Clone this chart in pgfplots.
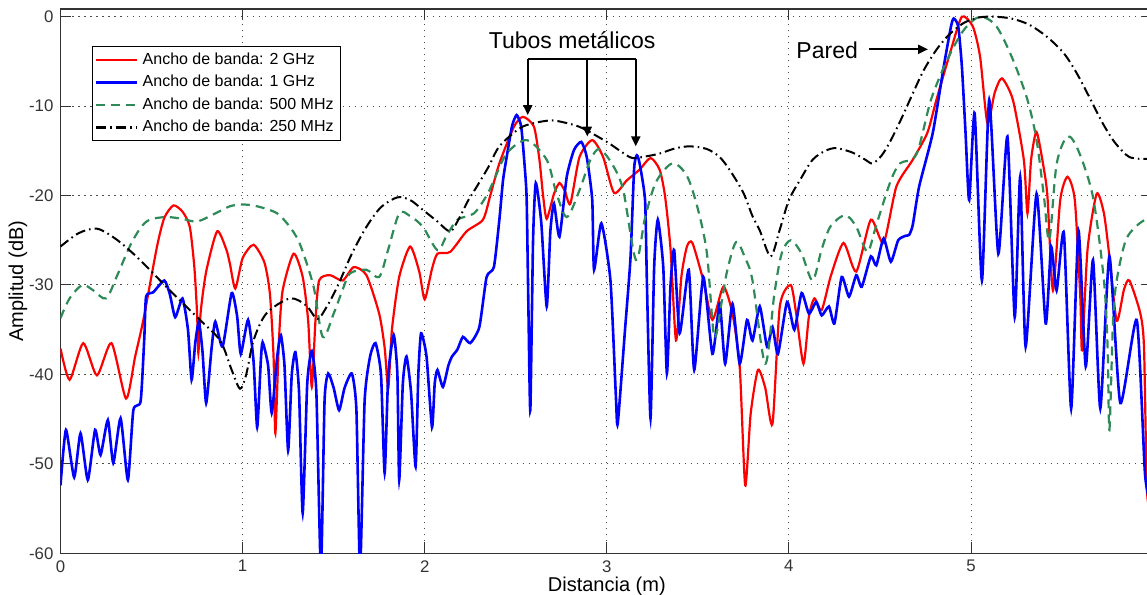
\documentclass[border=0pt]{standalone}
\usepackage{fontspec}
\setmainfont{Liberation Sans}
\usepackage{pgfplots}
\pgfplotsset{compat=1.18}
\usetikzlibrary{arrows.meta}
\definecolor{mgreen}{RGB}{46,139,87}

\begin{document}
\begin{tikzpicture}
\begin{axis}[
    name=main,
    scale only axis,
    width=546.3pt, height=272.15pt,
    xmin=0, xmax=6, ymin=-60, ymax=0.86,
    xtick={0,1,2,3,4,5}, xticklabels={0,1,2,3,4,5},
    ytick={-60,-50,-40,-30,-20,-10,0},
    yticklabels={-60,-50,-40,-30,-20,-10,0},
    tick align=inside, tick pos=both,
    major tick length=5.5pt,
    tick style={black!80, line width=0.5pt},
    axis line style={black!80, line width=0.6pt},
    grid=major,
    major grid style={dash pattern=on 0.6pt off 2.4pt, black!70, line width=0.5pt},
    tick label style={font=\fontsize{8.4}{10}\selectfont, text=black!80},
    label style={font=\fontsize{8.2}{10}\selectfont, text=black!80},
    xlabel={Distancia (m)},
    ylabel={Amplitud (dB)},
    every axis x label/.style={at={(axis description cs:0.5,-0.0606)}, anchor=center},
    every axis y label/.style={at={(axis description cs:-0.0389,0.5)}, rotate=90, anchor=center},
    legend style={at={(axis cs:0.1713,-3.28)}, anchor=north west, draw=black,
        fill=white, font=\fontsize{8}{9}\selectfont, inner xsep=1.5pt, inner ysep=1pt,
        cells={anchor=west}},
    legend image code/.code={\draw[#1] (0pt,0pt) -- (20.5pt,0pt);},
]

% Ancho de banda 2 GHz
\addplot[red, line width=1.1pt, smooth, tension=0.4] coordinates {
(0,-37.1) (0.05,-40.6) (0.125,-36.5) (0.2,-40.1) (0.28,-36.5) (0.36,-42.7) (0.41,-38)
(0.455,-33.9) (0.53,-25.7) (0.57,-22.5) (0.62,-21.1) (0.67,-21.8) (0.71,-23.5) (0.735,-28)
(0.75,-33.2) (0.757,-37.6) (0.77,-33) (0.80,-28.5) (0.86,-24.0) (0.91,-26.0) (0.93,-27.6)
(0.96,-30.4) (1.00,-27.0) (1.06,-25.5) (1.12,-27.5) (1.15,-31.0) (1.17,-38) (1.18,-46.6)
(1.20,-36) (1.22,-30.6) (1.28,-26.5) (1.33,-29.1) (1.36,-34) (1.38,-41.4) (1.40,-34)
(1.42,-29.5) (1.48,-28.9) (1.55,-29.5) (1.61,-28.0) (1.68,-28.9) (1.75,-33.2) (1.78,-37)
(1.80,-41.5) (1.82,-35) (1.86,-29.1) (1.92,-25.7) (1.97,-28.5) (2.00,-31.6) (2.04,-28.2)
(2.07,-26.5) (2.14,-26.3) (2.23,-24.0) (2.32,-22.7) (2.36,-20.0) (2.41,-16.4) (2.49,-12.3)
(2.54,-11.2) (2.60,-12.3) (2.63,-16.0) (2.65,-20.0) (2.67,-22.6) (2.71,-19.8) (2.74,-18.6)
(2.77,-19.5) (2.80,-20.9) (2.85,-15.7) (2.92,-13.8) (2.98,-15.7) (3.04,-19.7) (3.11,-18.3)
(3.18,-17.1) (3.24,-15.8) (3.29,-17.1) (3.32,-20.1) (3.35,-26) (3.38,-36.2) (3.41,-29)
(3.44,-25.7) (3.47,-25.3) (3.53,-29.5) (3.58,-33.9) (3.64,-30.2) (3.69,-33.2) (3.73,-39.2)
(3.76,-52.4) (3.79,-44.4) (3.83,-39.5) (3.87,-41.5) (3.91,-45.5) (3.95,-32.4) (4.01,-30.0)
(4.04,-33.2) (4.08,-38.8) (4.11,-33.5) (4.14,-31.5) (4.18,-32.8) (4.23,-29) (4.30,-25.3)
(4.37,-28.5) (4.45,-22.7) (4.52,-25.3) (4.59,-19.0) (4.68,-16.0) (4.76,-13.0) (4.81,-9.3)
(4.89,-3.7) (4.95,0) (5.01,-1.1) (5.05,-4.5) (5.09,-11.9) (5.13,-8.5) (5.17,-6.9)
(5.23,-9.3) (5.29,-16.0) (5.31,-22) (5.33,-16) (5.36,-12.9) (5.40,-17) (5.42,-20.2)
(5.45,-30.6) (5.49,-20.5) (5.53,-17.9) (5.57,-20.5) (5.60,-31.3) (5.61,-37.3) (5.64,-26)
(5.69,-19.8) (5.73,-22) (5.76,-26.8) (5.80,-34.0) (5.84,-30.5) (5.87,-29.5) (5.93,-33.2)
(5.95,-37) (5.965,-52.5) (5.98,-55)
};
\addlegendentry{Ancho de banda: 2 GHz}

% Ancho de banda 1 GHz
\addplot[blue, line width=1.3pt, smooth, tension=0.35] coordinates {
(0,-52.4) (0.03,-46.2) (0.075,-51.5) (0.11,-46.6) (0.15,-51.8) (0.19,-46.2) (0.22,-49.0)
(0.26,-45.1) (0.29,-49.9) (0.33,-44.9) (0.37,-51.8) (0.40,-44.0) (0.44,-43.0) (0.46,-36)
(0.47,-31.3) (0.51,-30.8) (0.57,-29.5) (0.60,-31) (0.63,-33.6) (0.67,-31.5) (0.70,-35)
(0.72,-40.6) (0.74,-36.5) (0.76,-34.1) (0.78,-37.5) (0.80,-43.2) (0.83,-37) (0.85,-34.1)
(0.89,-36.9) (0.94,-30.9) (0.97,-33.5) (0.99,-37.7) (1.03,-33.9) (1.06,-38.5) (1.08,-45.9)
(1.10,-38.5) (1.11,-36.4) (1.14,-39) (1.16,-44.3) (1.19,-38) (1.21,-35.6) (1.23,-39)
(1.25,-48.5) (1.27,-40) (1.29,-37.5) (1.31,-42) (1.33,-55.5) (1.355,-41) (1.38,-37.4)
(1.405,-42) (1.43,-62) (1.45,-43) (1.47,-39.9) (1.50,-41.5) (1.53,-44.0) (1.56,-41.5)
(1.60,-39.9) (1.625,-44) (1.645,-62) (1.67,-43) (1.70,-38) (1.73,-36.5) (1.76,-40)
(1.78,-51.0) (1.80,-40) (1.83,-35.6) (1.85,-40) (1.86,-51.8) (1.88,-41) (1.90,-38.0)
(1.925,-42) (1.95,-50.3) (1.965,-40) (1.98,-35.4) (2.01,-38) (2.04,-45.9) (2.055,-41)
(2.07,-39.5) (2.10,-41.4) (2.13,-39) (2.15,-38.0) (2.18,-37.2) (2.21,-35.8) (2.25,-36.5)
(2.30,-34.7) (2.34,-29.1) (2.38,-28.0) (2.41,-22.7) (2.43,-18.3) (2.45,-15.7) (2.48,-12.2)
(2.505,-11.0) (2.53,-12.3) (2.55,-17) (2.56,-20.5) (2.57,-33.2) (2.58,-44.0) (2.595,-25)
(2.61,-18.6) (2.64,-23) (2.67,-32.4) (2.69,-24) (2.71,-20.9) (2.74,-24.6) (2.78,-17.9)
(2.82,-14.9) (2.86,-14.0) (2.89,-15.7) (2.92,-20.5) (2.93,-28.3) (2.97,-23.1) (3.02,-29.5)
(3.05,-42.5) (3.06,-45.5) (3.10,-35) (3.13,-27) (3.15,-17) (3.165,-15.5) (3.18,-16.4)
(3.21,-20.5) (3.22,-29.5) (3.24,-44.9) (3.26,-28) (3.28,-22.7) (3.31,-28) (3.33,-39.9)
(3.35,-30) (3.37,-26.1) (3.40,-35.4) (3.45,-28.3) (3.48,-39.5) (3.53,-29.1) (3.58,-37.7)
(3.62,-32.1) (3.65,-38.8) (3.69,-32.1) (3.73,-38.8) (3.77,-33.9) (3.80,-36.2) (3.84,-32.4)
(3.88,-36.9) (3.91,-34.7) (3.94,-37.7) (3.99,-31.9) (4.03,-35.0) (4.07,-30.9) (4.11,-33.2)
(4.15,-31.9) (4.18,-33.4) (4.22,-32.4) (4.25,-34.3) (4.29,-29.1) (4.33,-31.3) (4.37,-28.9)
(4.40,-30.2) (4.45,-26.8) (4.48,-27.8) (4.52,-24.8) (4.56,-27.4) (4.60,-25.0) (4.64,-24.5)
(4.66,-24.4) (4.68,-23.3) (4.715,-19) (4.79,-13.0) (4.85,-5.6) (4.89,-1.1) (4.905,-0.2)
(4.93,-1.1) (4.95,-5.6) (4.97,-13.0) (4.99,-20.5) (5.02,-10.8) (5.06,-29.5) (5.10,-9.3)
(5.15,-26.5) (5.20,-13.4) (5.24,-33.6) (5.27,-17.9) (5.30,-36.9) (5.36,-19.8) (5.41,-34.3)
(5.44,-25.7) (5.47,-30.6) (5.51,-24.2) (5.55,-43.8) (5.59,-23.9) (5.63,-39.1) (5.67,-27.2)
(5.71,-43.8) (5.76,-26.8) (5.82,-43.2) (5.91,-33.9) (5.955,-51) (5.98,-54)
};
\addlegendentry{Ancho de banda: 1 GHz}

% Ancho de banda 500 MHz
\addplot[mgreen, line width=1.1pt, dash pattern=on 4.5pt off 3pt, smooth, tension=0.5] coordinates {
(0,-33.7) (0.05,-31.5) (0.12,-30.0) (0.18,-30.6) (0.25,-31.5) (0.31,-29.0) (0.38,-25.7)
(0.44,-23.6) (0.49,-22.7) (0.58,-22.4) (0.67,-22.6) (0.75,-22.9) (0.85,-22.0) (0.93,-21.2)
(1.0,-21.0) (1.08,-21.2) (1.19,-22.0) (1.27,-23.8) (1.32,-25.7) (1.39,-30.2) (1.44,-35.8)
(1.50,-33.2) (1.55,-30.5) (1.59,-28.7) (1.68,-28.3) (1.75,-29.1) (1.80,-26.0) (1.86,-22.0)
(1.92,-22.3) (1.99,-23.5) (2.07,-26.1) (2.12,-24.5) (2.18,-22.7) (2.27,-22.0) (2.34,-20.0)
(2.38,-18.3) (2.45,-15.3) (2.56,-13.8) (2.67,-16.0) (2.72,-19.5) (2.78,-22.4) (2.85,-19.4)
(2.91,-16.0) (2.96,-14.8) (3.03,-16.5) (3.09,-19.4) (3.16,-27.2) (3.21,-22.5) (3.27,-18.5)
(3.36,-16.4) (3.44,-17.8) (3.50,-21.5) (3.55,-26.5) (3.59,-35.8) (3.63,-32) (3.66,-28.5)
(3.71,-25.2) (3.76,-27.0) (3.80,-29.5) (3.87,-38.8) (3.92,-31.0) (3.96,-26.5) (4.01,-25.0)
(4.07,-26.5) (4.13,-29.5) (4.18,-26.0) (4.23,-23.4) (4.31,-22.2) (4.37,-23.5) (4.43,-26.3)
(4.47,-24) (4.50,-22.0) (4.56,-18.3) (4.61,-16.4) (4.70,-15.4) (4.78,-9.3) (4.87,-4.8)
(4.96,-1.5) (5.05,0) (5.14,-1.1) (5.23,-4.8) (5.31,-9.3) (5.36,-13.8) (5.40,-20.0)
(5.43,-25.0) (5.47,-16.5) (5.53,-13.4) (5.59,-15.0) (5.67,-20.2) (5.73,-29.5) (5.75,-36.9)
(5.76,-46.2) (5.78,-34.0) (5.80,-29.5) (5.85,-25.0) (5.92,-23.2) (6.0,-22.2)
};
\addlegendentry{Ancho de banda: 500 MHz}

% Ancho de banda 250 MHz
\addplot[black, line width=1pt, dash pattern=on 5pt off 2pt on 0.8pt off 2pt, smooth, tension=0.5] coordinates {
(0,-25.7) (0.1,-24.2) (0.2,-23.7) (0.3,-24.8) (0.4,-26.5) (0.49,-28.3) (0.6,-30.6)
(0.75,-33.6) (0.876,-36.2) (0.94,-39.5) (0.986,-41.6) (1.02,-40) (1.06,-36.2) (1.13,-33.2)
(1.26,-31.5) (1.35,-32.3) (1.41,-33.8) (1.46,-32.5) (1.52,-30.2) (1.60,-26.5) (1.68,-23.5)
(1.76,-21.3) (1.85,-20.2) (1.92,-20.5) (1.99,-21.6) (2.07,-22.9) (2.14,-24.0) (2.19,-22.5)
(2.24,-20.5) (2.28,-19.2) (2.35,-16.8) (2.41,-14.5) (2.52,-12.5) (2.60,-11.9) (2.70,-11.6)
(2.80,-12.0) (2.87,-12.5) (3.0,-14.0) (3.08,-15.1) (3.14,-15.8) (3.22,-15.6) (3.29,-15.3)
(3.38,-14.7) (3.46,-14.5) (3.55,-14.8) (3.62,-15.7) (3.68,-17.3) (3.75,-19.7) (3.80,-22.3)
(3.84,-23.9) (3.90,-26.8) (3.95,-23.8) (4.0,-20.5) (4.06,-18.3) (4.13,-16.0) (4.20,-15.0)
(4.26,-14.7) (4.35,-15.2) (4.42,-16.0) (4.46,-16.4) (4.51,-15.5) (4.56,-13.8) (4.62,-11.3)
(4.68,-8.6) (4.74,-6.0) (4.81,-3.7) (4.88,-2.0) (4.96,-0.7) (5.04,-0.1) (5.12,0)
(5.22,-0.2) (5.32,-0.9) (5.42,-2.3) (5.51,-4.1) (5.58,-6.3) (5.65,-9.0) (5.72,-11.8)
(5.78,-13.8) (5.83,-15.0) (5.87,-15.7) (5.93,-15.9) (6.0,-15.9)
};
\addlegendentry{Ancho de banda: 250 MHz}

% anotaciones
\node[font=\fontsize{11.5}{13}\selectfont] at (axis cs:2.81,-2.6) {Tubos metálicos};
\draw[line width=1pt] (axis cs:2.566,-4.73) -- (axis cs:3.159,-4.73);
\draw[line width=1pt, -{Triangle[length=5pt,width=4.5pt]}] (axis cs:2.566,-4.73) -- (axis cs:2.566,-11.0);
\draw[line width=1pt, -{Triangle[length=5pt,width=4.5pt]}] (axis cs:2.893,-4.73) -- (axis cs:2.893,-13.4);
\draw[line width=1pt, -{Triangle[length=5pt,width=4.5pt]}] (axis cs:3.159,-4.73) -- (axis cs:3.159,-14.5);
\node[font=\fontsize{11.5}{13}\selectfont] at (axis cs:4.21,-3.72) {Pared};
\draw[line width=1pt, -{Triangle[length=5pt,width=4.5pt]}] (axis cs:4.44,-3.65) -- (axis cs:4.764,-3.65);
\end{axis}
\pgfresetboundingbox
\path ([xshift=-30.25pt,yshift=-20.5pt]main.south west) rectangle ([xshift=-3.05pt,yshift=4.5pt]main.north east);
\end{tikzpicture}
\end{document}
